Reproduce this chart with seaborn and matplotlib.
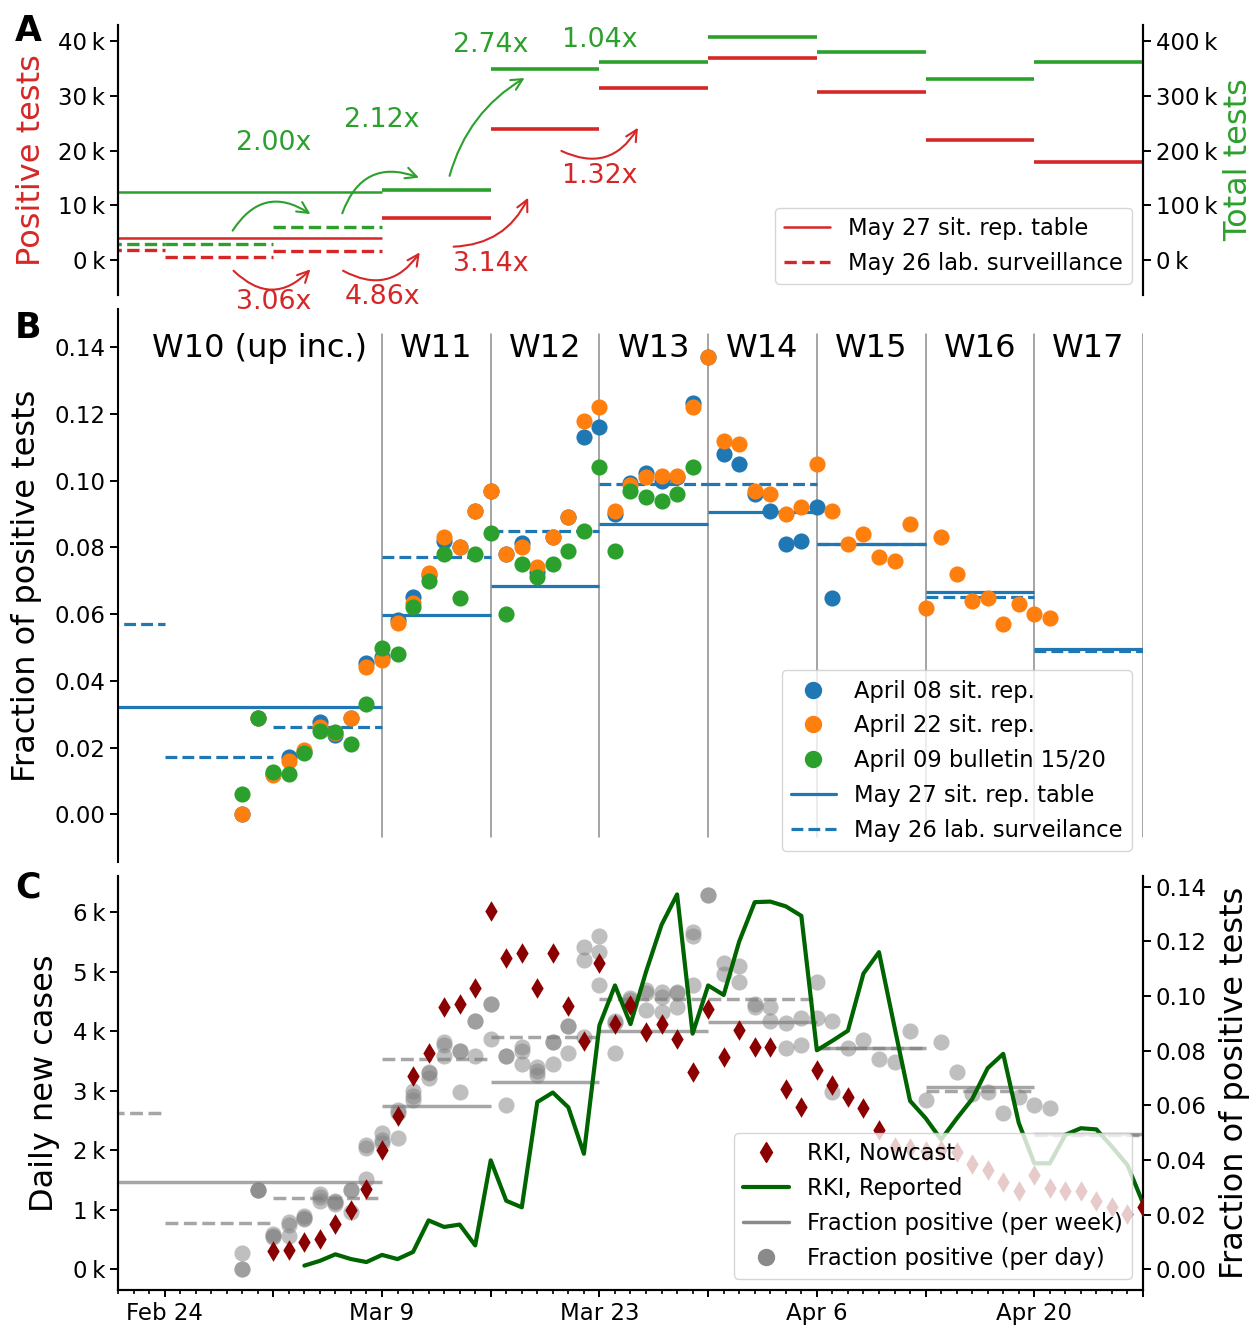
import numpy as np
import pandas as pd
import matplotlib
matplotlib.use("Agg")
import matplotlib.pyplot as plt
import matplotlib.dates as mdates
from matplotlib.ticker import FuncFormatter, MultipleLocator
from matplotlib.lines import Line2D
import seaborn as sns

# ---------------------------------------------------------------- data
# Panel A: weekly counts, "May 27 sit. rep. table" (first week = W10 and all earlier)
table_week_start = ["2020-02-10", "2020-03-09", "2020-03-16", "2020-03-23",
                    "2020-03-30", "2020-04-06", "2020-04-13", "2020-04-20"]
table_positive = [3970, 7600, 23900, 31500, 36900, 30700, 22000, 18000]
table_total = [124600, 127600, 349000, 361500, 408500, 379800, 331600, 363000]

# Panel A: weekly counts, "May 26 lab. surveillance" (W8-W10)
lab_week_start = ["2020-02-17", "2020-02-24", "2020-03-02"]
lab_positive = [1780, 520, 1590]
lab_total = [30000, 30000, 60000]

green_ratio_labels = ["2.00x", "2.12x", "2.74x", "1.04x"]
red_ratio_labels = ["3.06x", "4.86x", "3.14x", "1.32x"]

# Panel B: weekly fraction positive
frac_table = [0.0321, 0.0597, 0.0685, 0.0870, 0.0905, 0.0810, 0.0666, 0.0496]
frac_lab_week_start = ["2020-02-17", "2020-02-24", "2020-03-02", "2020-03-09",
                       "2020-03-16", "2020-03-23", "2020-03-30", "2020-04-06",
                       "2020-04-13", "2020-04-20"]
frac_lab = [0.0571, 0.0171, 0.0261, 0.0771, 0.0850, 0.0990, 0.0990, 0.0810,
            0.0652, 0.0490]
week_labels = ["W10 (up inc.)", "W11", "W12", "W13", "W14", "W15", "W16", "W17"]

# Panel B: daily fraction positive (all series start on Feb 29)
daily_start = "2020-02-29"
sitrep_apr08 = [0.000, 0.029, 0.012, 0.0173, 0.0186, 0.0276, 0.0238, 0.029,
                0.0453, 0.0473, 0.0583, 0.0653, 0.0718, 0.082, 0.080, 0.091,
                0.097, 0.078, 0.0814, 0.0727, 0.083, 0.089, 0.113, 0.116,
                0.090, 0.0993, 0.1023, 0.0998, 0.101, 0.1233, 0.137, 0.108,
                0.105, 0.096, 0.091, 0.081, 0.082, 0.092, 0.065]
sitrep_apr22 = [0.000, 0.029, 0.0118, 0.0161, 0.0193, 0.0263, 0.0245, 0.029,
                0.0443, 0.0463, 0.0573, 0.0635, 0.0723, 0.083, 0.080, 0.091,
                0.097, 0.078, 0.080, 0.074, 0.083, 0.089, 0.118, 0.122,
                0.091, 0.0986, 0.101, 0.1013, 0.1013, 0.122, 0.137, 0.112,
                0.111, 0.097, 0.096, 0.090, 0.092, 0.105, 0.091, 0.081,
                0.084, 0.077, 0.076, 0.087, 0.062, 0.083, 0.072, 0.064,
                0.065, 0.057, 0.063, 0.060, 0.059]
bulletin_apr09 = [0.006, 0.029, 0.0128, 0.0121, 0.0183, 0.025, 0.0248, 0.021,
                  0.0331, 0.050, 0.048, 0.0621, 0.070, 0.078, 0.065, 0.078,
                  0.0842, 0.060, 0.075, 0.0712, 0.075, 0.079, 0.085, 0.104,
                  0.079, 0.097, 0.095, 0.094, 0.096, 0.104]

# Panel C: RKI daily new cases
nowcast_start = "2020-03-02"
rki_nowcast = [310, 320, 450, 510, 760, 990, 1350, 2000, 2580, 3250, 3630,
               4400, 4460, 4720, 6020, 5230, 5310, 4720, 5310, 4430, 3840,
               5150, 4130, 4440, 3990, 4130, 3870, 3310, 4380, 3570, 4020,
               3730, 3730, 3030, 2720, 3350, 3100, 2890, 2710, 2340, 2060,
               2030, 1980, 2010, 1970, 1770, 1670, 1460, 1320, 1590, 1360,
               1320, 1310, 1150, 1050, 930, 1050]
reported_start = "2020-03-04"
rki_reported = [60, 140, 250, 170, 120, 240, 170, 290, 820, 710, 750, 400,
                1830, 1150, 1040, 2810, 2970, 2720, 1940, 4100, 4770, 4120,
                5000, 5790, 6300, 3960, 4770, 4610, 5510, 6170, 6180, 6100,
                5940, 3680, 3840, 4010, 4970, 5330, 4070, 2830, 2540, 2180,
                2530, 2860, 3380, 3620, 2460, 1780, 1780, 2260, 2370, 2350,
                2060, 1750, 1110]

# ---------------------------------------------------------------- helpers
def num(s):
    return mdates.date2num(pd.Timestamp(s))

def daily_x(start, n):
    return mdates.date2num(pd.date_range(start, periods=n, freq="D"))

X0, X1 = num("2020-02-21"), num("2020-04-27")
MAR9 = num("2020-03-09")

tab_s = np.array([num(d) for d in table_week_start])
tab_e = np.append(tab_s[1:], X1)
lab_s = np.array([num(d) for d in lab_week_start])
flab_s = np.array([num(d) for d in frac_lab_week_start])

sns.set_style("ticks")
plt.rcParams["font.family"] = ["DejaVu Sans"]
plt.rcParams.update({
    "axes.linewidth": 1.5,
    "xtick.major.width": 1.4, "ytick.major.width": 1.4,
    "xtick.minor.width": 1.2,
    "xtick.major.size": 5, "ytick.major.size": 5.5, "xtick.minor.size": 2.8,
    "xtick.labelsize": 16.5, "ytick.labelsize": 16.5,
    "axes.labelsize": 23, "legend.fontsize": 16.3,
    "legend.labelspacing": 0.52,
    "xtick.color": "black", "ytick.color": "black",
    "axes.edgecolor": "black", "text.color": "black",
    "axes.labelcolor": "black",
})

W, H = 1255, 1325
def rect(x0, y0, x1, y1):
    return [x0 / W, 1 - y1 / H, (x1 - x0) / W, (y1 - y0) / H]

RED, GREEN = "tab:red", "tab:green"
kfmt = FuncFormatter(lambda v, p: f"{v/1000:.0f}\u2009k")

fig = plt.figure(figsize=(W / 100, H / 100), dpi=100)

# ================================================================ Panel A
axA = fig.add_axes(rect(118, 25, 1143, 295))
axA2 = axA.twinx()

lw_main = [1.8] + [2.6] * (len(tab_s) - 1)
axA.hlines(table_positive, tab_s, tab_e, color=RED, lw=lw_main)
axA.hlines(lab_positive, lab_s, lab_s + 7, color=RED, lw=2.4, linestyles="--")
axA2.hlines(table_total, tab_s, tab_e, color=GREEN, lw=lw_main)
axA2.hlines(lab_total, lab_s, lab_s + 7, color=GREEN, lw=2.4, linestyles="--")

axA.set_xlim(X0, X1)
axA.set_ylim(-6400, 43000)
axA2.set_ylim(-64000, 430000)
axA.yaxis.set_major_locator(MultipleLocator(10000))
axA2.yaxis.set_major_locator(MultipleLocator(100000))
axA.yaxis.set_major_formatter(kfmt)
axA2.yaxis.set_major_formatter(kfmt)
axA.set_ylabel("Positive tests", color=RED, labelpad=8)
axA2.set_ylabel("Total tests", color=GREEN, labelpad=4)
for a in (axA, axA2):
    a.spines["top"].set_visible(False)
    a.spines["bottom"].set_visible(False)
    a.tick_params(axis="x", bottom=False, labelbottom=False)

# ratio arrows (offsets in days from Mar 9, y in positive-test units)
g_arrows = [((-9.62, 5370), (-4.61, 8400), -0.5),
            ((-2.56, 8550), (2.38, 15070), -0.5),
            ((4.35, 15400), (9.18, 33300), -0.2)]
r_arrows = [((-9.56, -1960), (-4.61, -1700), 0.5),
            ((-2.51, -1960), (2.43, 1400), 0.45),
            ((4.61, 2440), (9.41, 11400), 0.3),
            ((11.55, 19960), (16.48, 24200), 0.45)]
for arrows, col in ((g_arrows, GREEN), (r_arrows, RED)):
    for (sx, sy), (ex, ey), rad in arrows:
        axA.annotate("", xy=(MAR9 + ex, ey), xytext=(MAR9 + sx, sy),
                     annotation_clip=False,
                     arrowprops=dict(arrowstyle="->", color=col, lw=1.5,
                                     mutation_scale=20, shrinkA=0, shrinkB=0,
                                     connectionstyle=f"arc3,rad={rad}"))
g_text_y = [21400, 25600, 39400, 40300]
r_text_y = [-7700, -6800, -700, 15400]
for i in range(4):
    xx = MAR9 + 7 * (i - 1)
    axA.text(xx, g_text_y[i], green_ratio_labels[i], color=GREEN, fontsize=19.3,
             ha="center", va="center", clip_on=False)
    axA.text(xx, r_text_y[i], red_ratio_labels[i], color=RED, fontsize=19.3,
             ha="center", va="center", clip_on=False)

axA2.legend(handles=[Line2D([], [], color=RED, lw=1.8),
                     Line2D([], [], color=RED, lw=2.4, ls="--")],
            labels=["May 27 sit. rep. table", "May 26 lab. surveillance"],
            loc="lower right")

# ================================================================ Panel B
axB = fig.add_axes(rect(118, 309, 1143, 862))
for d in tab_s[1:]:
    axB.axvline(d, ymin=0.045, ymax=0.955, color="0.55", lw=1.1, zorder=0)
axB.axvline(X1, ymin=0.045, ymax=0.955, color="0.55", lw=1.1, zorder=0)

for vals, col in ((sitrep_apr08, "tab:blue"), (sitrep_apr22, "tab:orange"),
                  (bulletin_apr09, "tab:green")):
    sns.scatterplot(x=daily_x(daily_start, len(vals)), y=vals, color=col,
                    s=135, linewidth=0, ax=axB, zorder=3)
axB.hlines(frac_table, tab_s, tab_e, color="tab:blue", lw=2.3, zorder=2)
axB.hlines(frac_lab, flab_s, flab_s + 7, color="tab:blue", lw=2.3,
           linestyles="--", zorder=2)

label_x = [num("2020-03-01 02:00")] + list(tab_s[1:] + 3.5)
for xx, lab in zip(label_x, week_labels):
    axB.text(xx, 0.1397, lab, fontsize=23, ha="center", va="center")

axB.set_xlim(X0, X1)
axB.set_ylim(-0.0143, 0.1515)
axB.yaxis.set_major_locator(MultipleLocator(0.02))
axB.yaxis.set_major_formatter(FuncFormatter(lambda v, p: f"{v:.2f}"))
axB.set_ylabel("Fraction of positive tests", labelpad=9)
axB.set_xlabel("")
for s in ("top", "bottom", "right"):
    axB.spines[s].set_visible(False)
axB.tick_params(axis="x", bottom=False, labelbottom=False)
axB.legend(handles=[Line2D([], [], marker="o", ls="", color="tab:blue", ms=11.5),
                    Line2D([], [], marker="o", ls="", color="tab:orange", ms=11.5),
                    Line2D([], [], marker="o", ls="", color="tab:green", ms=11.5),
                    Line2D([], [], color="tab:blue", lw=2.3),
                    Line2D([], [], color="tab:blue", lw=2.3, ls="--")],
           labels=["April 08 sit. rep.", "April 22 sit. rep.",
                   "April 09 bulletin 15/20", "May 27 sit. rep. table",
                   "May 26 lab. surveilance"],
           loc="lower right")

# ================================================================ Panel C
axC = fig.add_axes(rect(118, 876, 1143, 1290))   # fraction (right axis)
axC2 = axC.twinx()                                # cases (left axis)

for vals in (sitrep_apr08, sitrep_apr22, bulletin_apr09):
    sns.scatterplot(x=daily_x(daily_start, len(vals)), y=vals, color="gray",
                    alpha=0.5, s=135, linewidth=0, ax=axC, zorder=2)
axC.hlines(frac_table, tab_s, tab_e, color="gray", alpha=0.7, lw=2.5, zorder=3)
axC.hlines(frac_lab, flab_s, flab_s + 7, color="gray", alpha=0.7, lw=2.5,
           linestyles="--", zorder=3)

sns.scatterplot(x=daily_x(nowcast_start, len(rki_nowcast)), y=rki_nowcast,
                marker="d", color="darkred", s=110, linewidth=0, ax=axC2,
                zorder=3)
sns.lineplot(x=daily_x(reported_start, len(rki_reported)), y=rki_reported,
             color="darkgreen", linewidth=3, ax=axC2, zorder=2, sort=False)

axC.yaxis.tick_right()
axC.yaxis.set_label_position("right")
axC2.yaxis.tick_left()
axC2.yaxis.set_label_position("left")

axC.set_xlim(X0, X1)
axC.set_ylim(-0.0076, 0.1439)
axC2.set_ylim(-350, 6610)
axC.yaxis.set_major_locator(MultipleLocator(0.02))
axC.yaxis.set_major_formatter(FuncFormatter(lambda v, p: f"{v:.2f}"))
axC2.yaxis.set_major_locator(MultipleLocator(1000))
axC2.yaxis.set_major_formatter(kfmt)
axC.set_ylabel("Fraction of positive tests", labelpad=9)
axC2.set_ylabel("Daily new cases", labelpad=9)
axC.set_xlabel("")
axC2.set_xlabel("")
for a in (axC, axC2):
    a.spines["top"].set_visible(False)

ref = num("2020-02-24")
def date_fmt(v, p):
    if int(round(v - ref)) % 14 == 0:
        dt = mdates.num2date(v)
        return f"{dt:%b} {dt.day}"
    return ""
axC.xaxis.set_major_locator(mdates.WeekdayLocator(byweekday=mdates.MO))
axC.xaxis.set_minor_locator(mdates.DayLocator())
axC.xaxis.set_major_formatter(FuncFormatter(date_fmt))

axC2.legend(handles=[Line2D([], [], marker="d", ls="", color="darkred", ms=10.5),
                     Line2D([], [], color="darkgreen", lw=3),
                     Line2D([], [], color="#8a8a8a", lw=2.5),
                     Line2D([], [], marker="o", ls="", color="#8a8a8a", ms=11.5)],
            labels=["RKI, Nowcast", "RKI, Reported",
                    "Fraction positive (per week)", "Fraction positive (per day)"],
            loc="lower right")

# panel letters
for letter, ytop in (("A", 14), ("B", 311), ("C", 871)):
    fig.text(15 / W, 1 - ytop / H, letter, fontsize=25, fontweight="bold",
             ha="left", va="top")

fig.savefig("out.png", dpi=100)
